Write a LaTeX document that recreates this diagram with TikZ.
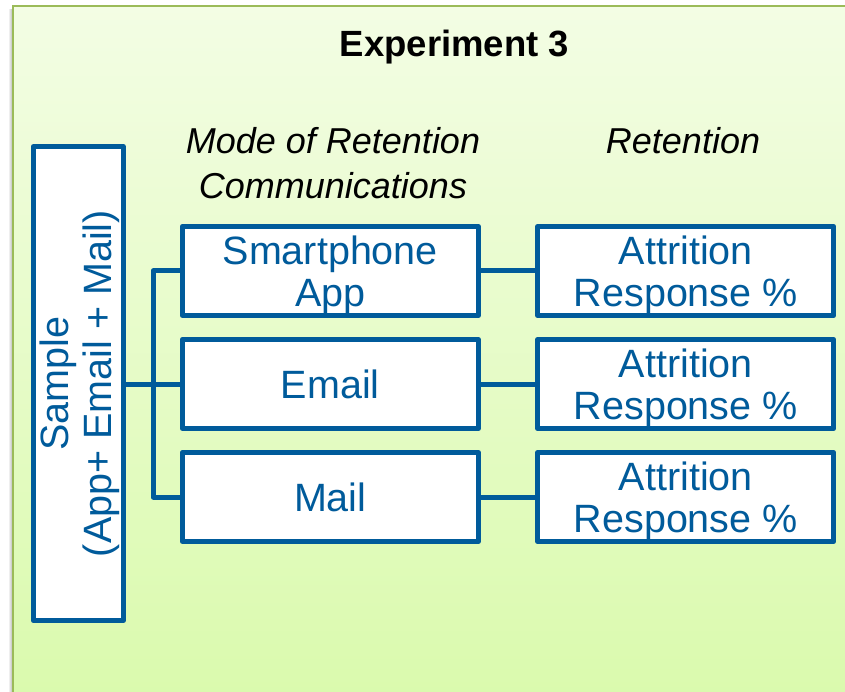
\documentclass[tikz,border=0pt]{standalone}
\usepackage{fontspec}
\setmainfont{Liberation Sans}
\definecolor{boxblue}{HTML}{005B9B}
\definecolor{framegreen}{HTML}{9BBB59}
\definecolor{bgtop}{HTML}{F3FDE4}
\definecolor{bgbottom}{HTML}{DAFAAD}
\tikzset{
  x=1pt, y=-1pt,
  frame/.style={draw=boxblue, line width=5pt, line join=round, fill=white, inner sep=0pt},
  itembox/.style={frame, minimum width=296pt, minimum height=89pt, align=center,
    text=boxblue, font=\fontsize{39.5}{42}\selectfont, text depth=0pt},
  link/.style={draw=boxblue, line width=5pt, line join=round},
  heading/.style={font=\fontsize{36}{44}\selectfont\itshape, align=center, anchor=base},
}
\begin{document}
\begin{tikzpicture}
\useasboundingbox (0,0) rectangle (845,692);
% panel background with its soft left shadow
\shade[left color=white, right color=black!25] (8,10) rectangle (12,700);
\shade[top color=bgtop, bottom color=bgbottom] (13,6) rectangle (860,700);
\draw[framegreen, line width=2pt] (13,700) -- (13,6) -- (860,6);

% titles
\node[font=\fontsize{36.5}{40}\selectfont\bfseries, anchor=base] (title) at (454.5,56.5) {Experiment 3};
\node[heading] (modehead) at (333,154) {Mode of Retention};
\node[heading] (commhead) at (333,198.5) {Communications};
\node[heading] (rethead) at (683,154) {Retention};

% sample box with rotated label
\node[frame, minimum width=90pt, minimum height=474pt] (sample) at (78.2,383.6) {};
\node[rotate=90, text=boxblue, align=center, font=\fontsize{39.5}{43}\selectfont] (sampletext) at (80,383.6) {Sample\\(App+ Email + Mail)};

% communication modes
\node[itembox] (app) at (330.3,271) {Smartphone\\App};
\node[itembox] (email) at (330.3,384) {Email};
\node[itembox] (mail) at (330.3,497) {Mail};

% retention outcomes
\node[itembox] (r1) at (685.8,271) {Attrition\\Response \%};
\node[itembox] (r2) at (685.8,384) {Attrition\\Response \%};
\node[itembox] (r3) at (685.8,497) {Attrition\\Response \%};

% connectors
\coordinate (spine) at (153.2,384);
\draw[link] (app.west) -- (app.west -| spine) -- (mail.west -| spine) -- (mail.west);
\draw[link] (email.west -| sample.east) -- (email.west);
\draw[link] (app.east) -- (r1.west);
\draw[link] (email.east) -- (r2.west);
\draw[link] (mail.east) -- (r3.west);
\end{tikzpicture}
\end{document}
